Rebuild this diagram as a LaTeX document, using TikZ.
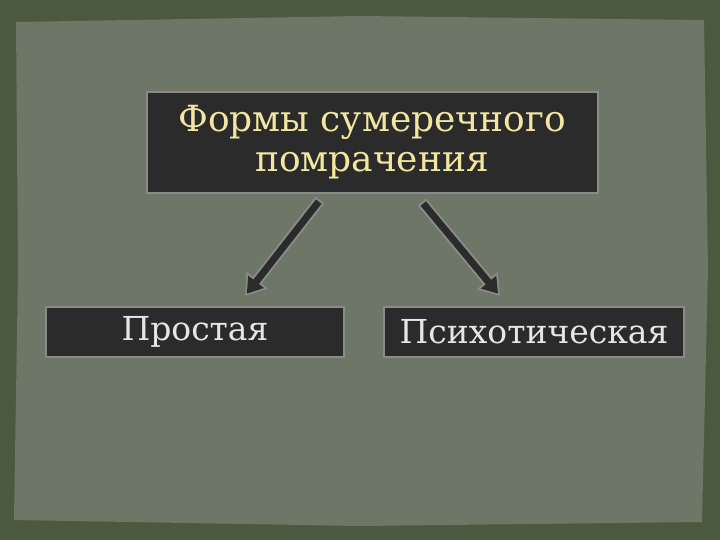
\documentclass[tikz,border=0pt]{standalone}
\usepackage{fontspec}
\setmainfont{DejaVu Serif}
\usetikzlibrary{arrows.meta}
\definecolor{outer}{HTML}{4B5A3E}
\definecolor{panel}{HTML}{6E7667}
\definecolor{boxfill}{HTML}{2B2B2B}
\definecolor{boxline}{HTML}{8A8A8A}
\definecolor{ttl}{HTML}{F2E6A0}
\definecolor{txt}{HTML}{E6E6E6}
\tikzset{x=1pt,y=-1pt,
 box/.style={draw=boxline,line width=1.5pt,fill=boxfill,inner sep=0pt},
 arrout/.style={line width=11pt,draw=boxline,-{Triangle[length=20pt,width=26pt]}},
 arrin/.style={line width=7pt,draw=boxfill,shorten >=3pt,shorten <=2pt,-{Triangle[length=15pt,width=19pt]}}}
\begin{document}
\begin{tikzpicture}
\fill[outer] (0,0) rectangle (720,540);
\fill[panel] (16,22) -- (360,16) -- (704,20) -- (708,270) -- (702,522) -- (360,526) -- (14,520) -- (18,270) -- cycle;
\draw[box] (147,92) rectangle (598,193);
\node[text=ttl,font=\fontsize{36}{40}\selectfont,align=center] (t) at (372,142) {Формы сумеречного\\помрачения};
\draw[box] (46,307) rectangle (344,357);
\node[text=txt,font=\fontsize{33}{36}\selectfont] (a) at (195,332) {Простая};
\draw[box] (384,307) rectangle (684,357);
\node[text=txt,font=\fontsize{33}{36}\selectfont] (b) at (534,332) {Психотическая};
\coordinate (s1) at (320,200); \coordinate (e1) at (245,296);
\coordinate (s2) at (422,202); \coordinate (e2) at (500,296);
\draw[arrout] (s1) -- (e1); \draw[arrin] (s1) -- (e1);
\draw[arrout] (s2) -- (e2); \draw[arrin] (s2) -- (e2);
\end{tikzpicture}
\end{document}
